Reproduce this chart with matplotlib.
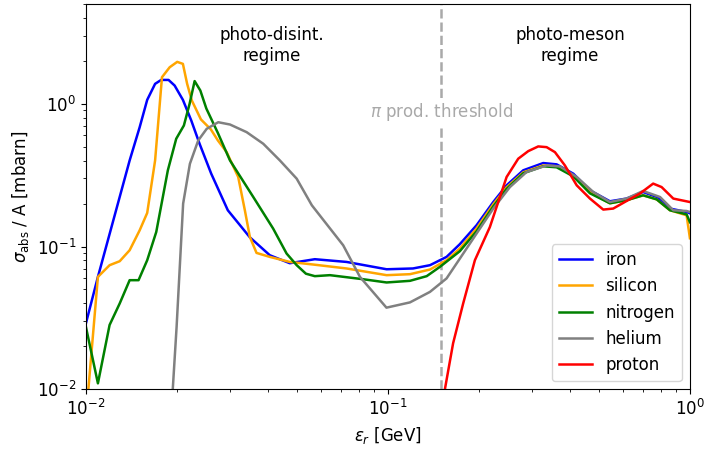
import matplotlib
matplotlib.use("Agg")
import matplotlib.pyplot as plt

# ---- data (energy in GeV, cross section per nucleon in mbarn) ----
iron_x = [0.0100, 0.01096, 0.01396, 0.01507, 0.01596, 0.01695, 0.01775, 0.01878,
          0.01967, 0.02095, 0.02233, 0.02379, 0.02600, 0.02951, 0.03491, 0.04064,
          0.04732, 0.05728, 0.07295, 0.0990, 0.1211, 0.1378, 0.1564, 0.1730,
          0.1966, 0.2233, 0.2472, 0.2806, 0.3267, 0.3620, 0.4111, 0.4667,
          0.5433, 0.6168, 0.6998, 0.7762, 0.8590, 0.9750, 1.0]
iron_y = [0.0289, 0.0613, 0.401, 0.686, 1.066, 1.38, 1.47, 1.47,
          1.343, 1.066, 0.764, 0.525, 0.324, 0.1795, 0.116, 0.0869,
          0.0764, 0.0815, 0.078, 0.0693, 0.0702, 0.074, 0.0846, 0.1038,
          0.141, 0.205, 0.2685, 0.342, 0.3845, 0.3765, 0.3238, 0.2477,
          0.2075, 0.2168, 0.241, 0.2223, 0.1845, 0.1746, 0.171]

silicon_x = [0.0101, 0.01096, 0.01198, 0.01294, 0.01396, 0.01507, 0.01596, 0.01695,
             0.01786, 0.01894, 0.02006, 0.02095, 0.02164, 0.02243, 0.02404, 0.02594,
             0.02735, 0.02924, 0.03194, 0.03360, 0.03491, 0.03673, 0.04064, 0.04732,
             0.05656, 0.07295, 0.0990, 0.1183, 0.1378, 0.1564, 0.1730, 0.1966,
             0.2233, 0.2472, 0.2806, 0.3267, 0.3620, 0.4111, 0.4667, 0.5433,
             0.6168, 0.6998, 0.7762, 0.8590, 0.9750, 1.0]
silicon_y = [0.008, 0.0613, 0.074, 0.0789, 0.0942, 0.130, 0.172, 0.401,
             1.535, 1.803, 1.967, 1.905, 1.38, 1.054, 0.777, 0.661,
             0.554, 0.459, 0.307, 0.1795, 0.1167, 0.0902, 0.0846, 0.078,
             0.0748, 0.0702, 0.063, 0.064, 0.069, 0.0802, 0.0968, 0.134,
             0.1977, 0.26, 0.331, 0.37, 0.365, 0.315, 0.240, 0.201,
             0.211, 0.2285, 0.214, 0.1795, 0.1655, 0.1143]

nitrogen_x = [0.0100, 0.01096, 0.01198, 0.01294, 0.01396, 0.01494, 0.01596, 0.0171,
              0.01868, 0.01991, 0.02111, 0.02205, 0.02291, 0.02393, 0.02505, 0.02735,
              0.0300, 0.03583, 0.04169, 0.04619, 0.04989, 0.05353, 0.05728, 0.06427,
              0.0828, 0.0990, 0.1183, 0.1344, 0.1486, 0.1730, 0.1966, 0.2233,
              0.2472, 0.2806, 0.3267, 0.3620, 0.4111, 0.4667, 0.5433, 0.6168,
              0.6998, 0.7762, 0.8590, 0.975, 1.0]
nitrogen_y = [0.0274, 0.0110, 0.0282, 0.0399, 0.0581, 0.0581, 0.0802, 0.1265,
              0.342, 0.569, 0.705, 1.0, 1.443, 1.239, 0.927, 0.625,
              0.401, 0.2223, 0.1336, 0.0893, 0.074, 0.0645, 0.062, 0.063,
              0.059, 0.056, 0.0575, 0.062, 0.072, 0.0927, 0.128, 0.191,
              0.2535, 0.326, 0.365, 0.359, 0.310, 0.236, 0.201, 0.211,
              0.2285, 0.214, 0.1795, 0.168, 0.148]

helium_x = [0.01934, 0.01997, 0.02099, 0.02210, 0.02355, 0.02512, 0.02743, 0.0300,
            0.03406, 0.03866, 0.04389, 0.04988, 0.05600, 0.07112, 0.0808, 0.0989,
            0.1183, 0.1378, 0.1564, 0.1730, 0.1966, 0.2233, 0.2535, 0.2877,
            0.3353, 0.3715, 0.4218, 0.4788, 0.5433, 0.6168, 0.6998, 0.7962,
            0.8810, 0.975, 1.0]
helium_y = [0.0091, 0.0274, 0.2, 0.380, 0.554, 0.668, 0.743, 0.716,
            0.633, 0.525, 0.401, 0.299, 0.1945, 0.102, 0.0613, 0.0373,
            0.0406, 0.0481, 0.0598, 0.0822, 0.1233, 0.1845, 0.261, 0.3325,
            0.370, 0.364, 0.307, 0.241, 0.205, 0.2168, 0.245, 0.2223,
            0.1795, 0.1774, 0.1745]

proton_x = [0.1532, 0.1644, 0.1775, 0.1941, 0.2176, 0.2472, 0.2701, 0.2915,
            0.3146, 0.3353, 0.3573, 0.3855, 0.4218, 0.4667, 0.5164, 0.5571,
            0.6168, 0.6824, 0.7556, 0.8058, 0.8810, 1.0]
proton_y = [0.0091, 0.0210, 0.0399, 0.0802, 0.137, 0.307, 0.4124, 0.466,
            0.5028, 0.497, 0.4586, 0.370, 0.2685, 0.2168, 0.1815, 0.1845,
            0.2084, 0.2348, 0.276, 0.261, 0.2168, 0.205]

pion_threshold = 0.15

series = [
    ("iron", iron_x, iron_y, "blue"),
    ("silicon", silicon_x, silicon_y, "orange"),
    ("nitrogen", nitrogen_x, nitrogen_y, "green"),
    ("helium", helium_x, helium_y, "grey"),
    ("proton", proton_x, proton_y, "red"),
]

fig = plt.figure(figsize=(7.04, 4.5), dpi=100)
ax = fig.add_axes([0.122, 0.135, 0.858, 0.856])

for name, xs, ys, col in series:
    ax.plot(xs, ys, color=col, lw=1.8, label=name)

ax.axvline(pion_threshold, color="darkgrey", ls="--", lw=1.8, zorder=0)
ax.text(pion_threshold, 0.88, r"$\pi$ prod. threshold", color="darkgrey",
        ha="center", va="center", fontsize=12,
        bbox=dict(facecolor="white", edgecolor="none", pad=2))
ax.text(0.0413, 2.56, "photo-disint.\nregime", ha="center", va="center",
        fontsize=12, multialignment="center")
ax.text(0.401, 2.56, "photo-meson\nregime", ha="center", va="center",
        fontsize=12, multialignment="center")

ax.set_xscale("log")
ax.set_yscale("log")
ax.set_xlim(1e-2, 1)
ax.set_ylim(1e-2, 5)
ax.set_xlabel(r"$\varepsilon_r$ [GeV]", fontsize=12)
ax.set_ylabel(r"$\sigma_{\rm abs}$ / A [mbarn]", fontsize=12)
ax.tick_params(labelsize=12)
ax.legend(loc="lower right", fontsize=12)

fig.savefig("out.png", dpi=100)
